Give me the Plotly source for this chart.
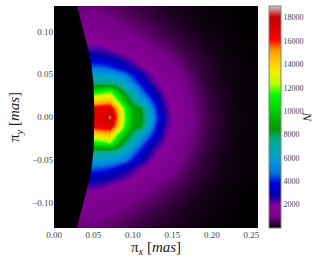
import plotly.graph_objects as go

x_values = [0.03, 0.04, 0.05, 0.06, 0.07, 0.08, 0.09, 0.10, 0.11, 0.12, 0.13, 0.14,
            0.15, 0.16, 0.17, 0.18, 0.19, 0.20, 0.21, 0.22, 0.23, 0.24, 0.25, 0.26]
y_upper = [0.00, 0.01, 0.02, 0.03, 0.04, 0.05, 0.06, 0.07, 0.08, 0.09, 0.10, 0.11, 0.12, 0.13]
counts_upper = [
    [17000, 17000, 17000, 17000, 18700, 15500, 11800, 9000, 8700, 6500, 4200, 2700, 1850, 1500, 1200, 850, 600, 430, 300, 200, 130, 75, 50, 35],
    [16500, 16500, 16500, 16800, 17000, 14800, 11300, 8800, 8400, 5800, 3800, 2450, 1800, 1450, 1150, 840, 590, 420, 290, 195, 125, 72, 48, 32],
    [14000, 14000, 14000, 14300, 14500, 12000, 9500, 7600, 6100, 4700, 3200, 2200, 1700, 1350, 1050, 790, 560, 400, 275, 185, 120, 70, 46, 30],
    [10800, 10800, 10800, 11200, 11800, 9800, 7700, 6200, 4800, 3500, 2600, 1950, 1550, 1250, 950, 720, 520, 370, 250, 170, 110, 65, 42, 28],
    [7600, 7600, 7600, 7600, 7400, 7000, 6200, 4900, 3800, 2700, 2050, 1700, 1380, 1100, 850, 630, 450, 320, 215, 145, 100, 60, 40, 26],
    [5700, 5700, 5700, 5700, 5600, 5300, 4800, 3800, 2900, 2200, 1800, 1500, 1220, 980, 750, 550, 390, 270, 180, 120, 80, 52, 35, 23],
    [4500, 4500, 4500, 4400, 4100, 3600, 3000, 2500, 2000, 1700, 1450, 1200, 1000, 800, 620, 470, 350, 260, 185, 130, 90, 58, 38, 24],
    [3100, 3100, 3100, 3050, 2850, 2600, 2250, 1950, 1650, 1400, 1200, 1020, 850, 680, 530, 410, 310, 230, 165, 115, 80, 50, 32, 20],
    [2400, 2400, 2400, 2300, 2000, 1750, 1550, 1350, 1200, 1050, 900, 780, 640, 520, 410, 320, 240, 175, 125, 90, 60, 40, 25, 16],
    [1700, 1700, 1700, 1600, 1450, 1320, 1200, 1080, 960, 850, 730, 620, 510, 420, 330, 255, 190, 140, 100, 70, 48, 32, 20, 13],
    [1400, 1400, 1400, 1300, 1200, 1100, 1000, 900, 800, 700, 600, 500, 410, 330, 260, 200, 150, 110, 80, 55, 38, 25, 16, 10],
    [1150, 1150, 1150, 1080, 1000, 920, 830, 730, 640, 550, 470, 390, 320, 255, 200, 155, 115, 85, 60, 42, 28, 18, 12, 8],
    [950, 950, 950, 920, 850, 770, 690, 600, 520, 450, 380, 320, 260, 210, 165, 125, 95, 70, 50, 35, 25, 15, 10, 6],
    [800, 800, 800, 780, 720, 650, 580, 500, 430, 370, 310, 260, 210, 170, 130, 100, 75, 55, 40, 28, 20, 12, 8, 5],
]
# Left edge of the populated region
edge_y = [0.13, 0.12, 0.11, 0.10, 0.09, 0.08, 0.07, 0.06, 0.05, 0.04, 0.03, 0.02, 0.01, 0.00,
          -0.01, -0.02, -0.03, -0.04, -0.05, -0.06, -0.07, -0.08, -0.09, -0.10, -0.11, -0.12, -0.13]
edge_x = [0.0288, 0.032, 0.0345, 0.0373, 0.0405, 0.0433, 0.0455, 0.0475, 0.049, 0.050, 0.0505, 0.051, 0.051, 0.051,
          0.051, 0.051, 0.0505, 0.050, 0.049, 0.0475, 0.0455, 0.0433, 0.0405, 0.0373, 0.0345, 0.032, 0.0288]
x_ticks = [0.00, 0.05, 0.10, 0.15, 0.20, 0.25]
y_ticks = [-0.10, -0.05, 0.00, 0.05, 0.10]
bar_ticks = [2000, 4000, 6000, 8000, 10000, 12000, 14000, 16000, 18000]

y_values = [-v for v in y_upper[:0:-1]] + y_upper
counts = counts_upper[:0:-1] + counts_upper

spectral = [
    (0.0, "rgb(0,0,0)"), (0.05, "rgb(119,0,136)"), (0.10, "rgb(136,0,153)"), (0.15, "rgb(0,0,170)"),
    (0.20, "rgb(0,0,221)"), (0.25, "rgb(0,119,221)"), (0.30, "rgb(0,153,221)"), (0.35, "rgb(0,170,170)"),
    (0.40, "rgb(0,170,136)"), (0.45, "rgb(0,153,0)"), (0.50, "rgb(0,187,0)"), (0.55, "rgb(0,221,0)"),
    (0.60, "rgb(0,255,0)"), (0.65, "rgb(187,255,0)"), (0.70, "rgb(238,238,0)"), (0.75, "rgb(255,204,0)"),
    (0.80, "rgb(255,153,0)"), (0.85, "rgb(255,0,0)"), (0.90, "rgb(221,0,0)"), (0.95, "rgb(204,0,0)"),
    (1.0, "rgb(204,204,204)"),
]
FONT = "Liberation Serif"
GREY = "#444444"

fig = go.Figure()
fig.add_trace(go.Heatmap(
    x=x_values, y=y_values, z=counts, zmin=0, zmax=19000, zsmooth="best",
    colorscale=spectral,
    colorbar=dict(
        thickness=12, thicknessmode="pixels", len=1, lenmode="fraction", x=1.056, xanchor="left",
        y=0.5, yanchor="middle", xpad=0, ypad=0, outlinecolor="#808080", outlinewidth=1,
        tickvals=bar_ticks, tickformat="d", ticks="", tickfont=dict(family=FONT, size=8, color=GREY), ticklabelposition="outside",
    ),
))
fig.add_trace(go.Scatter(
    x=[0.0] + edge_x + [0.0], y=[0.13] + edge_y + [-0.13], mode="lines", fill="toself",
    fillcolor="black", line=dict(width=0, color="black"), hoverinfo="skip", showlegend=False,
))
fig.add_annotation(text="<i>N</i>", xref="paper", yref="paper", x=1.247, y=0.5, showarrow=False, textangle=90,
                   xanchor="center", yanchor="middle", font=dict(family=FONT, size=13, color="#222222"))
fig.update_layout(
    width=317, height=257, margin=dict(l=54, r=59.3, t=6, b=29, autoexpand=False), paper_bgcolor="white", plot_bgcolor="black",
    font=dict(family=FONT),
    xaxis=dict(range=[0, 0.2585], tickvals=x_ticks, tickformat=".2f", ticks="", showgrid=False, zeroline=False,
               tickfont=dict(family=FONT, size=9, color=GREY), automargin=False,
               title=dict(text="π<sub><i>x</i></sub> [<i>mas</i>]", standoff=2, font=dict(family=FONT, size=15, color="#222222"))),
    yaxis=dict(range=[-0.13, 0.13], tickvals=y_ticks, tickformat=".2f", ticks="", showgrid=False, zeroline=False,
               tickfont=dict(family=FONT, size=9, color=GREY), automargin=False,
               title=dict(text="π<sub><i>y</i></sub> [<i>mas</i>]", standoff=8, font=dict(family=FONT, size=15, color="#222222"))),
)
fig.write_html("out.html", config={"displayModeBar": False},
               post_script="document.body.style.margin='0';document.documentElement.style.overflow='hidden';")
